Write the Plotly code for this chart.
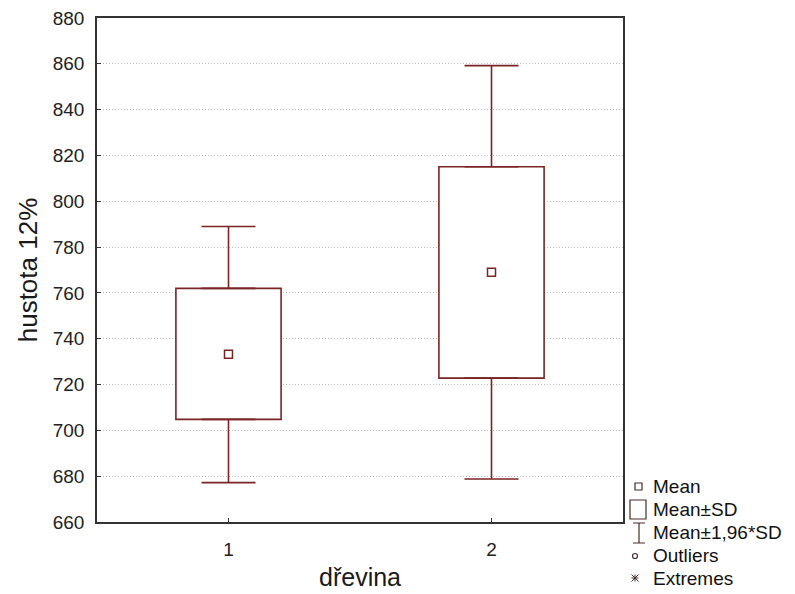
import plotly.graph_objects as go

# ---- data ----
categories = [1, 2]
means = [733.2, 769.0]
sd_low = [704.8, 722.8]      # Mean - SD
sd_high = [762.0, 815.1]     # Mean + SD
ci_low = [677.2, 678.8]      # Mean - 1.96*SD
ci_high = [789.0, 859.2]     # Mean + 1.96*SD
y_ticks = [660, 680, 700, 720, 740, 760, 780, 800, 820, 840, 860, 880]
legend_labels = ["Mean", "Mean±SD", "Mean±1,96*SD", "Outliers", "Extremes"]

LINE = "#7a2424"
FONT = "Liberation Sans, Arial, sans-serif"

# page body has an 8px margin; figure sized to fit the window
OFF = 8
W, H = 795 - OFF, 594 - OFF
# target plot-area edges in screen pixels
L, T, R, B = 97, 18, 623, 522

fig = go.Figure()

# Mean ± SD boxes
fig.add_trace(go.Bar(
    x=categories,
    y=[h - l for h, l in zip(sd_high, sd_low)],
    base=sd_low,
    width=0.4,
    marker=dict(color="white", line=dict(color=LINE, width=1.6)),
    hoverinfo="skip",
))

# upper whiskers
fig.add_trace(go.Scatter(
    x=categories, y=sd_high, mode="markers",
    marker=dict(size=1, color="rgba(0,0,0,0)"),
    error_y=dict(type="data", symmetric=False,
                 array=[c - s for c, s in zip(ci_high, sd_high)],
                 arrayminus=[0, 0], color=LINE, thickness=1.6, width=27),
    hoverinfo="skip",
))
# lower whiskers
fig.add_trace(go.Scatter(
    x=categories, y=sd_low, mode="markers",
    marker=dict(size=1, color="rgba(0,0,0,0)"),
    error_y=dict(type="data", symmetric=False,
                 array=[0, 0],
                 arrayminus=[s - c for s, c in zip(sd_low, ci_low)],
                 color=LINE, thickness=1.6, width=27),
    hoverinfo="skip",
))
# means
fig.add_trace(go.Scatter(
    x=categories, y=means, mode="markers",
    marker=dict(symbol="square-open", size=8, color=LINE, line=dict(width=1.5)),
    hoverinfo="skip",
))

# ---- legend (drawn manually, paper coords from screen pixel positions) ----
def px(xp):
    return (xp - L) / (R - L)
def py(yp):
    return (B - yp) / (B - T)

LEG = "#4a2a2a"
shapes = []
shapes.append(dict(type="rect", xref="paper", yref="paper",
                   x0=px(635), x1=px(642), y0=py(490), y1=py(483),
                   line=dict(color=LEG, width=1.2)))
shapes.append(dict(type="rect", xref="paper", yref="paper",
                   x0=px(630), x1=px(646), y0=py(519), y1=py(500),
                   line=dict(color=LEG, width=1.2)))
shapes.append(dict(type="path", xref="paper", yref="paper",
                   path=f"M {px(633)} {py(523)} L {px(645)} {py(523)} "
                        f"M {px(639)} {py(523)} L {px(639)} {py(543)} "
                        f"M {px(633)} {py(543)} L {px(645)} {py(543)}",
                   line=dict(color=LEG, width=1.2)))
shapes.append(dict(type="circle", xref="paper", yref="paper",
                   x0=px(632.5), x1=px(637.5), y0=py(558.5), y1=py(553.5),
                   line=dict(color=LEG, width=1.2)))
cx, cy, r = 635, 578, 3.5
shapes.append(dict(type="path", xref="paper", yref="paper",
                   path=f"M {px(cx)} {py(cy - r)} L {px(cx)} {py(cy + r)} "
                        f"M {px(cx - r)} {py(cy - r)} L {px(cx + r)} {py(cy + r)} "
                        f"M {px(cx - r)} {py(cy + r)} L {px(cx + r)} {py(cy - r)} "
                        f"M {px(cx - r)} {py(cy)} L {px(cx + r)} {py(cy)}",
                   line=dict(color=LEG, width=1)))

text_y = [486, 509, 532, 555, 578]
annotations = []
for lab, ty in zip(legend_labels, text_y):
    annotations.append(dict(text=lab, xref="paper", yref="paper",
                            x=px(651), y=py(ty), xanchor="left", yanchor="middle",
                            showarrow=False, font=dict(family=FONT, size=19, color="#111")))

fig.update_layout(
    width=W, height=H,
    margin=dict(l=L - OFF, r=W - (R - OFF), t=T - OFF, b=H - (B - OFF), autoexpand=False),
    plot_bgcolor="white", paper_bgcolor="white",
    showlegend=False,
    shapes=shapes, annotations=annotations,
    font=dict(family=FONT, size=19, color="#222"),
    xaxis=dict(
        range=[0.5, 2.5], tickmode="array", tickvals=categories,
        ticktext=[str(c) for c in categories],
        ticks="inside", ticklen=4, tickcolor="#333",
        showline=True, mirror=True, linecolor="#333", linewidth=1.5,
        showgrid=False, zeroline=False,
        tickfont=dict(size=19), ticklabelstandoff=9, ticklabeloverflow="allow",
        title=dict(text="dřevina", font=dict(size=25, color="#1a1a1a"), standoff=10),
    ),
    yaxis=dict(
        range=[660, 880], tickmode="array", tickvals=y_ticks,
        ticks="inside", ticklen=4, tickcolor="#333",
        showline=True, mirror=True, linecolor="#333", linewidth=1.5,
        showgrid=True, gridcolor="#bdbdbd", griddash="1px,2px", gridwidth=1,
        zeroline=False,
        tickfont=dict(size=19), ticklabelstandoff=7, ticklabeloverflow="allow",
        title=dict(text="hustota 12%", font=dict(size=26, color="#1a1a1a"), standoff=8),
    ),
)

fig.write_html("out.html")
